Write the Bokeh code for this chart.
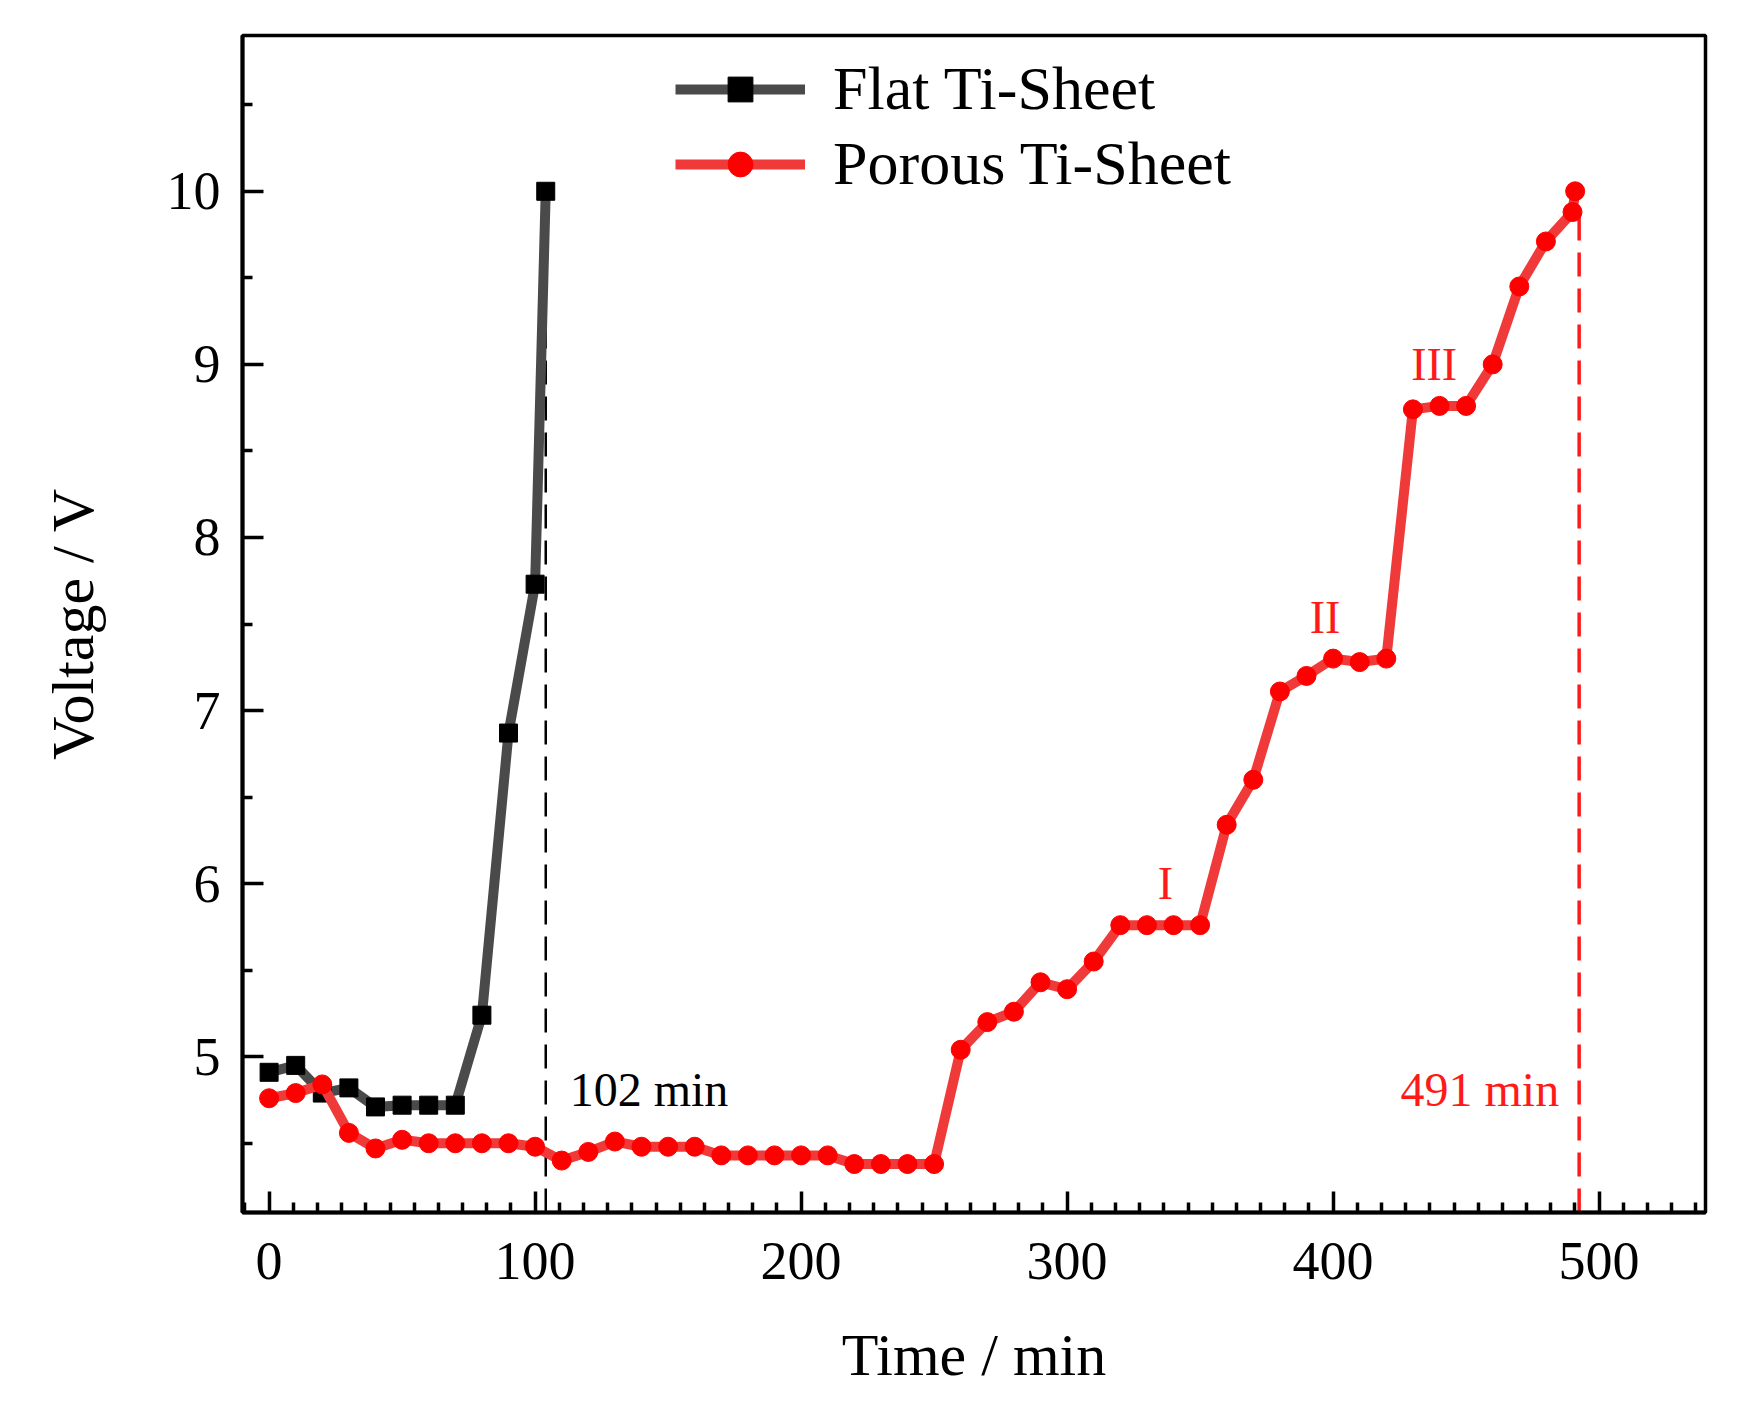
from bokeh.plotting import figure
from bokeh.models import FixedTicker, Range1d, Legend, LegendItem
from bokeh.core.properties import value
from bokeh.embed import file_html
from bokeh.resources import INLINE

# ---------------- data ----------------
flat_time = [0, 10, 20, 30, 40, 50, 60, 70, 80, 90, 100, 104]
flat_volt = [4.91, 4.95, 4.79, 4.82, 4.71, 4.72, 4.72, 4.72, 5.24, 6.87, 7.73, 10.0]

porous_time = [0, 10, 20, 30, 40, 50, 60, 70, 80, 90, 100, 110, 120, 130, 140, 150,
               160, 170, 180, 190, 200, 210, 220, 230, 240, 250, 260, 270, 280, 290,
               300, 310, 320, 330, 340, 350, 360, 370, 380, 390, 400, 410, 420, 430,
               440, 450, 460, 470, 480, 490, 491]
porous_volt = [4.76, 4.79, 4.84, 4.56, 4.47, 4.52, 4.50, 4.50, 4.50, 4.50, 4.48, 4.40,
               4.45, 4.51, 4.48, 4.48, 4.48, 4.43, 4.43, 4.43, 4.43, 4.43, 4.38, 4.38,
               4.38, 4.38, 5.04, 5.20, 5.26, 5.43, 5.39, 5.55, 5.76, 5.76, 5.76, 5.76,
               6.34, 6.60, 7.11, 7.20, 7.30, 7.28, 7.30, 8.74, 8.76, 8.76, 9.00, 9.45,
               9.71, 9.88, 10.0]

end_times = [104, 492.5]
end_labels = ["102 min", "491 min"]
end_colors = ["black", "#ff1a1a"]
end_tops = [10.0, 9.88]
end_label_x = [113, 485]
end_label_y = [4.81, 4.81]

stage_labels = ["I", "II", "III"]
stage_x = [337, 397, 438]
stage_y = [6.0, 7.54, 9.0]

x_major = [0, 100, 200, 300, 400, 500]
x_minor = [m + k * 100 / 11 for m in [-100, 0, 100, 200, 300, 400, 500] for k in range(1, 11)]
y_major = [5, 6, 7, 8, 9, 10]
y_minor = [4.5, 5.5, 6.5, 7.5, 8.5, 9.5, 10.5]

FONT = "Liberation Serif"

p = figure(width=1734, height=1407, output_backend="svg", toolbar_location=None,
           x_range=Range1d(-10, 540), y_range=Range1d(4.1, 10.9),
           min_border_left=242, min_border_right=29, min_border_top=35,
           min_border_bottom=195)
p.background_fill_color = "white"
p.border_fill_color = "white"
p.xgrid.visible = False
p.ygrid.visible = False
p.outline_line_color = "black"
p.outline_line_width = 3.5

for ax in (p.xaxis[0], p.yaxis[0]):
    ax.axis_line_width = 4
    ax.major_tick_line_width = 3.5
    ax.minor_tick_line_width = 3.5
    ax.major_tick_in = 21
    ax.major_tick_out = 0
    ax.minor_tick_in = 10
    ax.minor_tick_out = 0
    ax.major_label_text_font = FONT
    ax.major_label_text_font_size = "54px"
    ax.major_label_text_color = "black"
    ax.axis_label_text_font = FONT
    ax.axis_label_text_font_size = "60px"
    ax.axis_label_text_font_style = "normal"
    ax.axis_label_text_color = "black"

p.xaxis.ticker = FixedTicker(ticks=x_major, minor_ticks=x_minor)
p.yaxis.ticker = FixedTicker(ticks=y_major, minor_ticks=y_minor)
p.xaxis.axis_label = "Time / min"
p.yaxis.axis_label = "Voltage / V"
p.xaxis.major_label_standoff = 30
p.yaxis.major_label_standoff = 22
p.xaxis.axis_label_standoff = 40
p.yaxis.axis_label_standoff = 58

# dashed end markers
ybot = p.y_range.start
p.segment(x0=end_times, y0=[ybot] * len(end_times), x1=end_times, y1=end_tops,
          line_color=end_colors, line_width=[2.5, 3.5], line_dash="24 12")

# series
fl = p.line(flat_time, flat_volt, line_color="#4a4a4a", line_width=10)
fm = p.scatter(flat_time, flat_volt, marker="square", size=18, fill_color="black",
               line_color="black")
pl = p.line(porous_time, porous_volt, line_color="#f03a3a", line_width=10)
pm = p.scatter(porous_time, porous_volt, marker="circle", size=19, fill_color="#ff0000",
               line_color="#ff0000")

# annotations
p.text(x=end_label_x, y=end_label_y, text=end_labels, text_color=end_colors,
       text_align=["left", "right"], text_baseline="middle",
       text_font=value(FONT), text_font_size="48px")
p.text(x=stage_x, y=stage_y, text=stage_labels, text_color="#ff1a1a",
       text_align="center", text_baseline="middle",
       text_font=value(FONT), text_font_size="46px")

legend = Legend(items=[LegendItem(label="Flat Ti-Sheet", renderers=[fl, fm]),
                       LegendItem(label="Porous Ti-Sheet", renderers=[pl, pm])],
                location=(433, 1013), orientation="vertical",
                glyph_width=130, glyph_height=62, label_height=62,
                label_standoff=28, spacing=4, padding=12, margin=0,
                label_text_font=FONT, label_text_font_size="62px",
                label_text_color="black",
                border_line_color=None, background_fill_alpha=0)
p.add_layout(legend)

open("out.html", "w").write(file_html(p, INLINE))
